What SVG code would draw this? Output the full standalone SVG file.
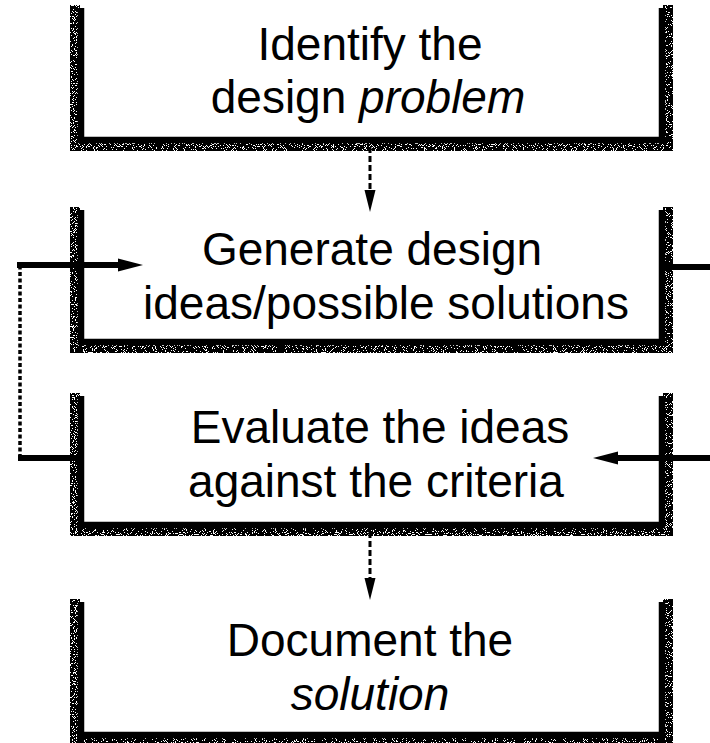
<svg xmlns="http://www.w3.org/2000/svg" width="710" height="743" viewBox="0 0 710 743">
  <style>
    .frame { fill: none; stroke: #000; stroke-width: 6.5; stroke-linejoin: miter; stroke-linecap: butt; }
    .halo { fill: none; stroke: #000; stroke-width: 10; filter: url(#grain); }
    .label { font-family: "Liberation Sans", Arial, sans-serif; font-size: 46px; fill: #000; text-anchor: middle; }
    .em { font-style: italic; }
    .solid { fill: none; stroke: #000; stroke-width: 6; }
    .dash { fill: none; stroke: #000; stroke-width: 3; stroke-dasharray: 6 3; }
    .dots { fill: none; stroke: #000; stroke-width: 3.5; stroke-dasharray: 4 2.5; }
    .head { fill: #000; }
  </style>
  <defs>
    <!-- speckled stipple used for the soft outer edge of each frame -->
    <filter id="grain" x="-5%" y="-5%" width="110%" height="110%">
      <feTurbulence type="fractalNoise" baseFrequency="1.1" numOctaves="1" seed="7" result="noise"/>
      <feColorMatrix in="noise" type="matrix" values="0 0 0 0 0  0 0 0 0 0  0 0 0 0 0  1 0 0 0 0" result="mask"/>
      <feComponentTransfer in="mask" result="dots">
        <feFuncA type="discrete" tableValues="0 0 1 1 1"/>
      </feComponentTransfer>
      <feComposite in="dots" in2="SourceGraphic" operator="in"/>
    </filter>
  </defs>

  <g id="identify">
    <path class="halo" d="M75,5 V146 H668 V5"/>
    <path class="frame" d="M81,8 V140 H662 V8"/>
    <text class="label" x="370" y="60">Identify the</text>
    <text class="label" x="368" y="113">design <tspan class="em">problem</tspan></text>
  </g>

  <g id="generate">
    <path class="halo" d="M75,207 V348 H668 V207"/>
    <path class="frame" d="M81,210 V342 H662 V210"/>
    <text class="label" x="372" y="265">Generate design</text>
    <text class="label" x="386" y="319">ideas/possible solutions</text>
  </g>

  <g id="evaluate">
    <path class="halo" d="M75,393 V531 H668 V393"/>
    <path class="frame" d="M81,396 V525 H662 V396"/>
    <text class="label" x="380" y="443">Evaluate the ideas</text>
    <text class="label" x="376" y="497">against the criteria</text>
  </g>

  <g id="document">
    <path class="halo" d="M75,599 V741 H668 V599"/>
    <path class="frame" d="M81,602 V735 H662 V602"/>
    <text class="label" x="370" y="656">Document the</text>
    <text class="label em" x="370" y="710">solution</text>
  </g>

  <g id="connectors">
    <!-- identify -> generate -->
    <path class="dash" d="M370,147 V194"/>
    <polygon class="head" points="364.5,190 375.5,190 370,212"/>
    <!-- evaluate -> document -->
    <path class="dash" d="M370,532 V582"/>
    <polygon class="head" points="364.5,578 375.5,578 370,600"/>
    <!-- loop back: evaluate -> generate (left side) -->
    <path class="solid" d="M81,458 H18"/>
    <path class="dots" d="M20,458 V265"/>
    <path class="solid" d="M17,265 H122"/>
    <polygon class="head" points="118,258.5 118,271.5 143,265"/>
    <!-- generate exits right, returns into evaluate -->
    <path class="solid" d="M662,267 H710"/>
    <path class="solid" d="M710,458 H614"/>
    <polygon class="head" points="618,451.5 618,464.5 593,458"/>
  </g>
</svg>
